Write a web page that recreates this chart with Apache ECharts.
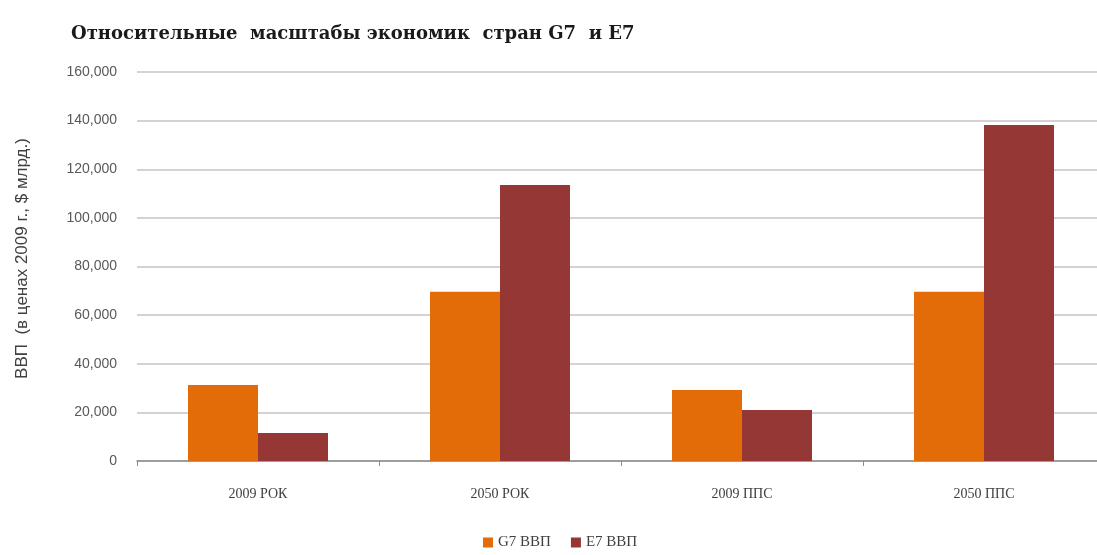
<!DOCTYPE html>
<html lang="ru">
<head>
    <meta charset="UTF-8">
    <title>G7 и E7</title>
    <style>
        html,body{margin:0;padding:0;background:#fff;overflow:hidden;}
        #chart{width:1112px;height:555px;}
    </style>
</head>
<body>
    <div id="chart"></div>
    <script src="https://cdn.jsdelivr.net/npm/echarts@6/dist/echarts.min.js"></script>
    <script>
        let categories=['2009 РОК','2050 РОК','2009 ППС','2050 ППС'];
        let g7Values=[31300,69600,29200,69600];
        let e7Values=[11500,113500,21000,138200];
        let seriesNames=['G7 ВВП','E7 ВВП'];

        // канва чуть шире окна: правый край сетки уходит за кадр, как в оригинале
        let myChart=echarts.init(document.getElementById('chart'));
        let option={
            animation:false,
            title:{
                text:'Относительные  масштабы экономик  стран G7  и E7',
                left:66,
                top:20,
                textStyle:{
                    fontFamily:'DejaVu Serif',
                    fontWeight:'bold',
                    fontSize:18,
                    color:'#1a1a1a',
                },
            },
            legend:{
                data:seriesNames,
                bottom:0,
                left:478,
                itemWidth:10,
                itemHeight:10,
                itemGap:20,
                itemTextGap:4,
                icon:'rect',
                textStyle:{
                    fontFamily:'Liberation Serif',
                    fontSize:15,
                    color:'#404040',
                },
            },
            grid:{
                left:137,
                top:72,
                width:968,
                height:389,
            },
            xAxis:{
                type:'category',
                data:categories,
                axisLine:{lineStyle:{color:'#8c8c8c',width:1.5}},
                axisTick:{show:true,length:5,lineStyle:{color:'#8c8c8c'}},
                axisLabel:{
                    margin:26,
                    fontFamily:'Liberation Serif',
                    fontSize:14,
                    color:'#404040',
                },
            },
            yAxis:{
                type:'value',
                min:0,
                max:160000,
                interval:20000,
                name:'ВВП  (в ценах 2009 г., $ млрд.)',
                nameLocation:'middle',
                nameGap:106,
                nameTextStyle:{
                    fontFamily:'Liberation Sans',
                    fontSize:17,
                    color:'#404040',
                    padding:[0,0,0,16],
                },
                axisLine:{show:false},
                axisTick:{show:false},
                splitLine:{lineStyle:{color:'#c9c3c6',width:1.5}},
                axisLabel:{
                    margin:20,
                    fontFamily:'Liberation Sans',
                    fontSize:14,
                    color:'#595959',
                    formatter:(v)=>v.toLocaleString('en-US'),
                },
            },
            series:[
                {
                    name:seriesNames[0],
                    type:'bar',
                    data:g7Values,
                    barWidth:70,
                    barGap:'0%',
                    itemStyle:{color:'#e36c09'},
                },
                {
                    name:seriesNames[1],
                    type:'bar',
                    data:e7Values,
                    barWidth:70,
                    barGap:'0%',
                    itemStyle:{color:'#953735'},
                },
            ],
        };
        myChart.setOption(option);
    </script>
</body>
</html>
